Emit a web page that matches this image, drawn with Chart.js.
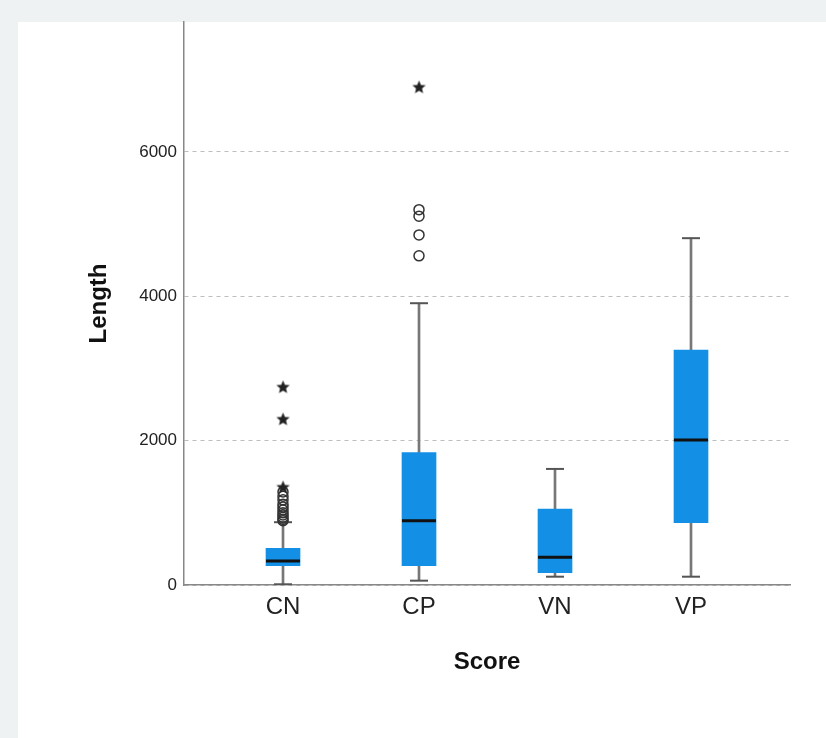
<html lang="en">
<head>
<meta charset="utf-8">
<script src="https://cdn.jsdelivr.net/npm/chart.js@4.4.1/dist/chart.umd.min.js"></script>
<style>
  body { margin: 0; background: #eef2f3; }
  #panel { position: absolute; left: 18px; top: 22px; width: 808px; height: 716px; background: #fff; }
  #wrap { position: absolute; left: 0; top: 0; width: 826px; height: 738px; }
</style>
</head>
<body>
<div id="panel"></div>
<div id="wrap"><canvas id="box-chart" width="826" height="738"></canvas></div>

<script>
  // boxplot summary per Score group
  var categories = ['CN', 'CP', 'VN', 'VP'];
  var lowWhisker = [10, 60, 115, 115];
  var q1 = [267, 268, 171, 864];
  var median = [333, 891, 383, 2010];
  var q3 = [509, 1834, 1053, 3253];
  var highWhisker = [870, 3904, 1608, 4805];
  // outliers (circles) and extremes (stars)
  var outlierCN = [890, 910, 940, 970, 1000, 1040, 1080, 1120, 1180, 1230, 1290];
  var outlierCP = [4560, 4850, 5110, 5200];
  var extremeCN = [1358, 2300, 2745];
  var extremeCP = [6900];
  var yTicks = [0, 2000, 4000, 6000];

  var boxBlue = '#138fe6';

  // little filled star like the SPSS extreme marker
  function makeStar(size) {
    var c = document.createElement('canvas');
    c.width = size; c.height = size;
    var g = c.getContext('2d');
    var cx = size / 2, cy = size / 2 + 0.5, ro = size / 2 - 0.5, ri = ro * 0.45;
    g.beginPath();
    for (var i = 0; i < 10; i++) {
      var r = i % 2 ? ri : ro;
      var a = -Math.PI / 2 + i * Math.PI / 5;
      g.lineTo(cx + r * Math.cos(a), cy + r * Math.sin(a));
    }
    g.closePath();
    g.fillStyle = '#222';
    g.fill();
    return c;
  }
  var star = makeStar(15);

  function pts(xs, ys) {
    return ys.map(function(v, i) { return {x: xs[i], y: v}; });
  }
  var xpos = categories.map(function(c, i) { return i + 1; });

  var datasets = [
    {
      type: 'bar', label: 'whisker', order: 5,
      data: xpos.map(function(x, i) { return {x: x, y: [lowWhisker[i], highWhisker[i]]}; }),
      backgroundColor: '#777', barThickness: 2, grouped: false
    },
    {
      type: 'bar', label: 'box', order: 4,
      data: xpos.map(function(x, i) { return {x: x, y: [q1[i], q3[i]]}; }),
      backgroundColor: boxBlue, barThickness: 34, grouped: false
    },
    {
      type: 'scatter', label: 'median', order: 3,
      data: pts(xpos, median),
      pointStyle: 'line', pointRadius: 17, borderWidth: 3, borderColor: '#111'
    },
    {
      type: 'scatter', label: 'caps', order: 2,
      data: pts(xpos, lowWhisker).concat(pts(xpos, highWhisker)),
      pointStyle: 'line', pointRadius: 9, borderWidth: 2, borderColor: '#555'
    },
    {
      type: 'scatter', label: 'outliers', order: 1,
      data: outlierCN.map(function(v) { return {x: 1, y: v}; })
        .concat(outlierCP.map(function(v) { return {x: 2, y: v}; })),
      pointStyle: 'circle', pointRadius: 5, borderWidth: 1.5,
      borderColor: '#333', backgroundColor: 'rgba(0,0,0,0)'
    },
    {
      type: 'scatter', label: 'extremes', order: 0,
      data: extremeCN.map(function(v) { return {x: 1, y: v}; })
        .concat(extremeCP.map(function(v) { return {x: 2, y: v}; })),
      pointStyle: star
    }
  ];

  new Chart(document.getElementById('box-chart'), {
    type: 'bar',
    data: { datasets: datasets },
    options: {
      responsive: false,
      animation: false,
      layout: { padding: { top: 22, right: 36, left: 0, bottom: 0 } },
      plugins: { legend: { display: false }, tooltip: { enabled: false } },
      scales: {
        x: {
          type: 'linear', min: 0.272, max: 4.728, offset: false,
          afterBuildTicks: function(s) { s.ticks = xpos.map(function(v) { return {value: v}; }); },
          afterFit: function(s) { s.height = 153; },
          ticks: {
            padding: 8, color: '#222',
            font: { family: 'Liberation Sans', size: 24 },
            callback: function(v) { return categories[v - 1]; }
          },
          grid: { display: false, drawTicks: false, offset: false },
          border: { display: true, color: '#888', width: 1.5 },
          title: {
            display: true, text: 'Score', color: '#111',
            font: { family: 'Liberation Sans', size: 24, weight: 'bold' },
            padding: { top: 0, bottom: 61 }
          }
        },
        y: {
          min: 0, max: 7800,
          afterBuildTicks: function(s) { s.ticks = yTicks.map(function(v) { return {value: v}; }); },
          afterFit: function(s) { s.width = 184; },
          ticks: {
            padding: 7, color: '#222',
            font: { family: 'Liberation Sans', size: 17 },
            callback: function(v) { return String(v); }
          },
          grid: {
            drawTicks: false, color: '#bdbdbd', lineWidth: 1
          },
          border: { display: true, color: '#888', width: 1.5, dash: [4, 4] },
          title: {
            display: true, text: 'Length', color: '#111',
            font: { family: 'Liberation Sans', size: 24, weight: 'bold' },
            padding: { top: 85, bottom: 0 }
          }
        }
      }
    }
  });
</script>
</body>
</html>
